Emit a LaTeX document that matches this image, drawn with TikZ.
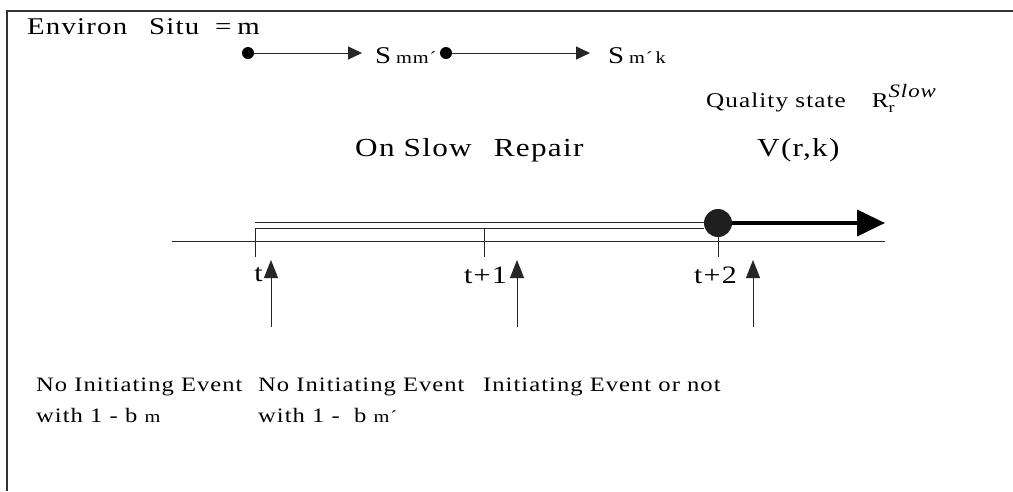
\documentclass[tikz,border=0pt]{standalone}
\usepackage{fontspec}
\setmainfont{Liberation Serif}[LetterSpace=5,FakeStretch=1.2]
\usetikzlibrary{arrows.meta}
\newcommand{\fs}[1]{\fontsize{#1}{#1}\selectfont}
\begin{document}
\begin{tikzpicture}[x=1pt,y=-1pt,
  txt/.style={inner sep=0pt,anchor=west,font=\fs{20.5}},
  dot/.style={circle,fill=black,inner sep=0pt,minimum size=12pt},
  bigdot/.style={circle,fill=black!88,inner sep=0pt,minimum size=28pt},
  line/.style={line width=1pt,black!85},
  arr/.style={line,-{Triangle[length=14pt,width=13pt]}},
  uparr/.style={line,-{Triangle[length=18pt,width=14pt]}},
  thickarr/.style={line width=4pt,-{Triangle[length=28pt,width=26pt]}}]
\useasboundingbox (0,0) rectangle (1013,491);
\fill[white] (0,0) rectangle (1013,491);
% frame
\draw[line width=1.4pt,black!80] (1013,11) -- (7,11) -- (7,491);
% title
\node[txt,font=\fs{24}] (env) at (27,27) {Environ\hspace{22pt}Situ\hspace{16pt}=\hspace{6pt}m};
% top row
\node[dot] (d1) at (248,53) {};
\coordinate (e1) at (362,53);
\draw[arr] (d1) -- (e1);
\node[txt,font=\fs{24}] (smm) at (375,56) {S\hspace{5pt}{\fs{17}mm´}};
\node[dot] (d2) at (446,53) {};
\coordinate (e2) at (590,53);
\draw[arr] (d2) -- (e2);
\node[txt,font=\fs{24}] (smk) at (608,56) {S\hspace{5pt}{\fs{17}m´\,k}};
% quality state
\node[txt,font=\fs{21}] (qs) at (706,98) {Quality state\hspace{26pt}R\rlap{\raisebox{-5pt}{\fs{15}r}}\raisebox{10pt}{\fs{19}\itshape Slow}};
\node[txt,font=\fs{26}] (osr) at (355,150) {On Slow\hspace{22pt}Repair};
\node[txt,font=\fs{26}] (vrk) at (757,150) {V(r,k)};
% timeline
\coordinate (l0) at (172,241);
\coordinate (l1) at (885,241);
\draw[line] (l0) -- (l1);
\node[bigdot] (big) at (718,223) {};
\coordinate (ds) at (255,222);
\coordinate (ds2) at (255,228);
\draw[line] (ds) -- (big.west |- ds);
\draw[line] (ds2) -- (big.west |- ds2);
\coordinate (k0) at (255,257);
\coordinate (k1a) at (484,228);
\coordinate (k1) at (484,257);
\coordinate (k2) at (718,257);
\draw[line] (ds2) -- (k0);
\draw[line] (k1a) -- (k1);
\draw[line] (big.south) -- (k2);
\coordinate (tip) at (885,223);
\draw[thickarr] (big.east) -- (tip);
% tick labels
\node[txt,anchor=east,font=\fs{25}] (t0) at (263,275) {t};
\node[txt,anchor=east,font=\fs{25}] (t1) at (507,275) {t+1};
\node[txt,anchor=east,font=\fs{25}] (t2) at (737,275) {t+2};
% up arrows
\coordinate (a0b) at (271,327); \coordinate (a0t) at (271,260);
\coordinate (a1b) at (517,327); \coordinate (a1t) at (517,260);
\coordinate (a2b) at (753,327); \coordinate (a2t) at (753,260);
\draw[uparr] (a0b) -- (a0t);
\draw[uparr] (a1b) -- (a1t);
\draw[uparr] (a2b) -- (a2t);
% bottom texts
\node[txt] (b1) at (36,387) {No Initiating Event};
\node[txt] (c1) at (36,415) {with 1 - b {\fs{17}m}};
\node[txt] (b2) at (258,387) {No Initiating Event};
\node[txt] (c2) at (258,415) {with 1 -\ \ b {\fs{17}m´}};
\node[txt] (b3) at (483,387) {Initiating Event or not};
\end{tikzpicture}
\end{document}
